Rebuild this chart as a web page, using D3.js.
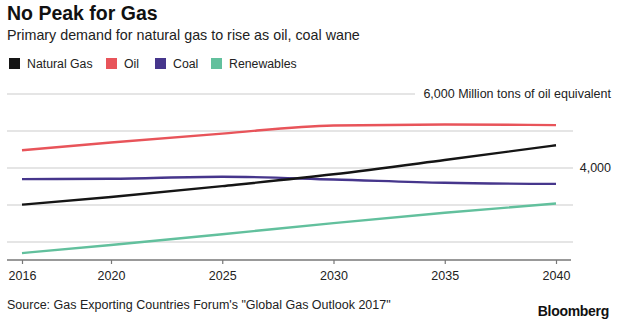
<!DOCTYPE html>
<html><head><meta charset="utf-8">
<script src="https://cdn.jsdelivr.net/npm/d3@7/dist/d3.min.js"></script>
<style>body{margin:0;background:#fff;}svg{display:block;font-family:"Liberation Sans",Arial,sans-serif;}</style>
</head><body><svg id="c" width="620" height="321"></svg>
<script>
const years = [2016, 2020, 2025, 2030, 2035, 2040];
const naturalGas = [3010, 3215, 3510, 3830, 4215, 4615];
const oil = [4480, 4690, 4930, 5150, 5175, 5160];
const coal = [3700, 3710, 3765, 3690, 3600, 3570];
const renewables = [1700, 1920, 2210, 2510, 2790, 3040];
const seriesNames = ["Natural Gas", "Oil", "Coal", "Renewables"];
const seriesColors = ["#151515", "#e8545a", "#46368c", "#62c09d"];
const yTicks = [2000, 3000, 4000, 5000, 6000];
const xTicks = [2016, 2020, 2025, 2030, 2035, 2040];

const svg = d3.select("#c");
const x = d3.scaleLinear().domain([2016, 2040]).range([22, 556]);
const y = d3.scaleLinear().domain([4000, 6000]).range([168, 94]);

svg.append("text").attr("x", 7).attr("y", 20).attr("font-size", 19.5).attr("font-weight", "bold").attr("fill", "#111").text("No Peak for Gas");
svg.append("text").attr("x", 7).attr("y", 40).attr("font-size", 14.3).attr("fill", "#222").text("Primary demand for natural gas to rise as oil, coal wane");

// legend
const legX = [9, 106, 155, 211];
seriesNames.forEach((n, i) => {
  svg.append("rect").attr("x", legX[i]).attr("y", 58).attr("width", 11).attr("height", 11).attr("fill", seriesColors[i]);
  svg.append("text").attr("x", legX[i] + 18).attr("y", 67.5).attr("font-size", 12.3).attr("fill", "#222").text(n);
});

// gridlines
svg.append("g").selectAll("line").data(yTicks).join("line")
  .attr("x1", 7).attr("x2", d => d === 6000 ? 415 : 573)
  .attr("y1", d => y(d)).attr("y2", d => y(d))
  .attr("stroke", "#dcdcdc").attr("stroke-width", 1.5);

// right labels
svg.append("text").attr("x", 611).attr("y", y(6000) + 4).attr("text-anchor", "end").attr("font-size", 12.5).attr("fill", "#222").text("6,000 Million tons of oil equivalent");
svg.append("text").attr("x", 611).attr("y", y(4000) + 4).attr("text-anchor", "end").attr("font-size", 12.5).attr("fill", "#222").text("4,000");

// x axis
const xAxis = d3.axisBottom(x).tickValues(xTicks).tickFormat(d3.format("d")).tickSize(4).tickPadding(7).tickSizeOuter(0);
const gx = svg.append("g").attr("transform", "translate(0,260)").call(xAxis);
gx.select(".domain").attr("d", "M7,0H571").attr("stroke", "#777").attr("stroke-width", 1.5);
gx.selectAll(".tick line").attr("stroke", "#777").attr("stroke-width", 1.2);
gx.selectAll(".tick text").attr("font-size", 12.5).attr("fill", "#222").attr("font-family", "Liberation Sans, Arial, sans-serif");

// lines
const data = [naturalGas, oil, coal, renewables];
const line = d3.line().x((d, i) => x(years[i])).y(d => y(d)).curve(d3.curveMonotoneX);
[1, 2, 3, 0].forEach(i => {
  svg.append("path").attr("d", line(data[i])).attr("fill", "none")
    .attr("stroke", seriesColors[i]).attr("stroke-width", 2.4);
});

svg.append("text").attr("x", 7).attr("y", 309).attr("font-size", 12.5).attr("fill", "#222").text("Source: Gas Exporting Countries Forum's \"Global Gas Outlook 2017\"");
svg.append("text").attr("x", 609).attr("y", 316).attr("text-anchor", "end").attr("font-size", 14).attr("font-weight", "bold").attr("fill", "#111").attr("letter-spacing", "-0.3").text("Bloomberg");
</script></body></html>
